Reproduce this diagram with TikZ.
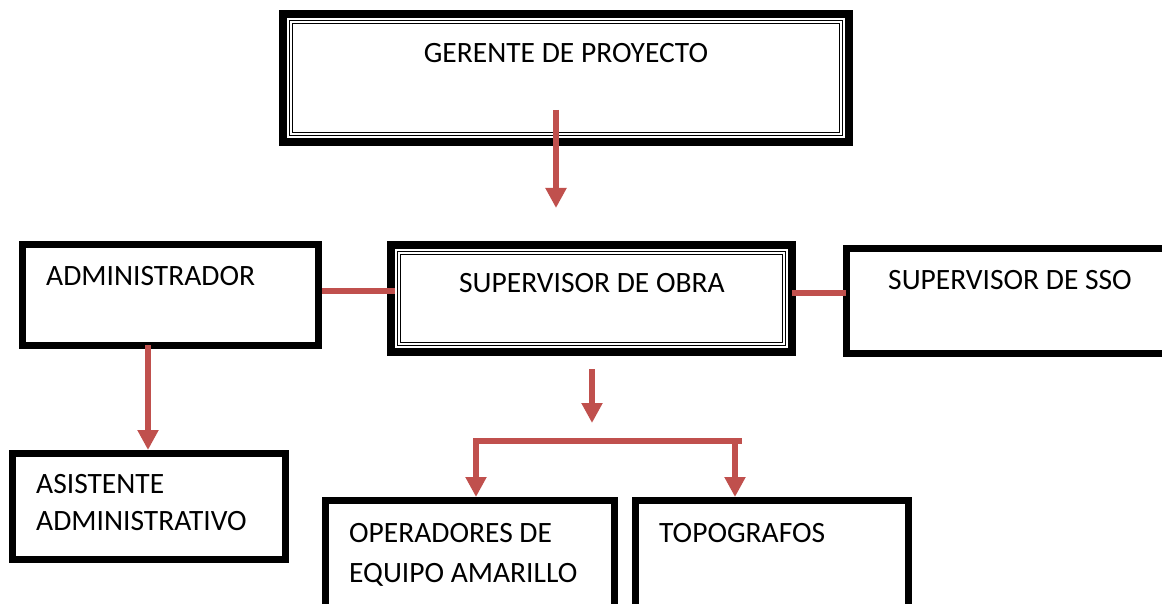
\documentclass[tikz,border=0pt]{standalone}
\usepackage{fontspec}
\setmainfont{Carlito}
\usetikzlibrary{arrows.meta}
\definecolor{conred}{HTML}{C0504D}
\begin{document}
\begin{tikzpicture}[x=1pt,y=-1pt,
  box/.style={draw=black, line width=7pt, inner sep=0pt, rectangle},
  dbox/.style={draw=black, line width=8pt, inner sep=0pt, rectangle},
  thinline/.style={draw=black, line width=1.3pt},
  lbl/.style={inner sep=0pt, anchor=base west, font=\fontsize{29.5}{37}\selectfont},
  conn/.style={draw=conred, line width=6.5pt},
  arr/.style={conn, -{Triangle[length=20pt,width=20pt]}}]
\clip (0,0) rectangle (1162,604);
\fill[white] (0,0) rectangle (1162,604);

% boxes
\node[dbox, minimum width=566pt, minimum height=128pt] (ger) at (566,78) {};
\node[dbox, minimum width=401pt, minimum height=107pt] (sup) at (591.5,298.5) {};
\node[box, minimum width=296pt, minimum height=101pt] (adm) at (170.5,295) {};
\node[box, minimum width=330pt, minimum height=105pt] (sso) at (1011.5,301) {};
\node[box, minimum width=273pt, minimum height=106pt] (asi) at (149,506.5) {};
\node[box, minimum width=289pt, minimum height=116pt] (opr) at (470,558.5) {};
\node[box, minimum width=273pt, minimum height=116pt] (top) at (772,558.5) {};

% inner double lines
\foreach \n in {ger,sup}{
  \draw[thinline] ([xshift=10.5pt,yshift=-10.5pt]\n.north west) rectangle ([xshift=-10.5pt,yshift=10.5pt]\n.south east);
  \draw[thinline] ([xshift=13.5pt,yshift=-13.5pt]\n.north west) rectangle ([xshift=-13.5pt,yshift=13.5pt]\n.south east);
}

% labels
\node[lbl, anchor=base] (tger) at (566,63) {GERENTE DE PROYECTO};
\node[lbl] (tadm) at (46,285) {ADMINISTRADOR};
\node[lbl] (tsup) at (459,292) {SUPERVISOR DE OBRA};
\node[lbl] (tsso) at (888,289) {SUPERVISOR DE SSO};
\node[lbl] (tasi) at (36,493) {\begin{tabular}[t]{@{}l@{}}ASISTENTE\\ADMINISTRATIVO\end{tabular}};
\node[lbl, font=\fontsize{29.5}{40}\selectfont] (topr) at (349,542) {\begin{tabular}[t]{@{}l@{}}OPERADORES DE\\EQUIPO AMARILLO\end{tabular}};
\node[lbl] (ttop) at (659,542) {TOPOGRAFOS};

% free-end coordinates
\coordinate (g1) at (556,110);
\coordinate (g2) at (556,208);
\coordinate (ya) at (0,291);
\coordinate (ys) at (0,293);
\coordinate (a1) at (148,345);
\coordinate (s1) at (592,369);
\coordinate (s2) at (592,423);
\coordinate (bl) at (473,441);
\coordinate (br) at (742,441);
\coordinate (xl) at (476,441);
\coordinate (xr) at (735,441);

% connectors
\draw[arr] (g1) -- (g2);
\draw[conn] (adm.east |- ya) -- ([xshift=8pt]sup.west |- ya);
\draw[conn] ([xshift=-4pt]sup.east |- ys) -- ([xshift=3pt]sso.west |- ys);
\draw[arr] (a1) -- (a1 |- asi.north);
\draw[arr] (s1) -- (s2);
\draw[conn] (bl) -- (br);
\draw[arr] ([yshift=3pt]xl) -- (xl |- opr.north);
\draw[arr] ([yshift=3pt]xr) -- (xr |- top.north);
\end{tikzpicture}
\end{document}
